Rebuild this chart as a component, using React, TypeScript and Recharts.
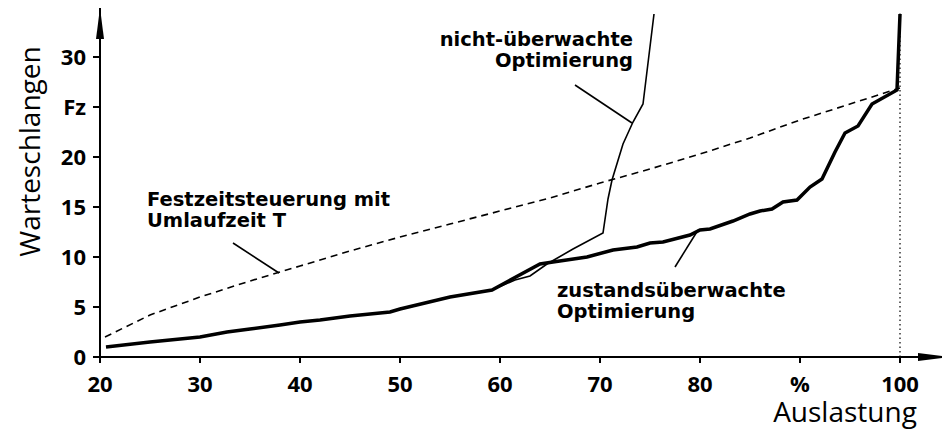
import {LineChart, Line, XAxis, YAxis, ReferenceLine} from 'recharts';

// Auslastung (%) / Warteschlangen
const festzeitX = [20.5, 25, 30, 35, 40, 45, 50, 55, 60, 65, 70, 75, 80, 85, 90, 95, 100];
const festzeitY = [2.0, 4.2, 6.0, 7.6, 9.1, 10.6, 12.0, 13.3, 14.6, 15.9, 17.4, 18.8, 20.3, 21.9, 23.7, 25.3, 26.9];

const zustandX = [20.6, 25, 30, 32.7, 35, 38, 40, 42, 45, 49, 50, 55, 59.2, 64, 65.3, 68.7, 71.3, 73.7, 75, 76.3, 79, 80, 81, 83.3, 85, 86, 87.2, 88.3, 89.7, 91, 92.2, 93.5, 94.5, 95.8, 97.2, 99.7, 100];
const zustandY = [1.0, 1.5, 2.0, 2.5, 2.8, 3.2, 3.5, 3.7, 4.1, 4.5, 4.8, 6.0, 6.7, 9.3, 9.5, 10.0, 10.7, 11.0, 11.4, 11.5, 12.2, 12.7, 12.8, 13.6, 14.3, 14.6, 14.8, 15.5, 15.7, 17.0, 17.8, 20.5, 22.4, 23.1, 25.3, 26.7, 34.3];

const nichtX = [20.6, 25, 30, 32.7, 35, 38, 40, 42, 45, 49, 50, 55, 59.2, 61.5, 63, 64.7, 67.3, 70.3, 70.8, 71.2, 72.3, 73.3, 74.3, 75.4];
const nichtY = [1.0, 1.5, 2.0, 2.5, 2.8, 3.2, 3.5, 3.7, 4.1, 4.5, 4.8, 6.0, 6.7, 7.7, 8.1, 9.3, 10.8, 12.4, 15.8, 17.7, 21.3, 23.5, 25.3, 34.3];

const xTicks = [20, 30, 40, 50, 60, 70, 80, 90, 100];
const yTicks = [0, 5, 10, 15, 20, 25, 30];

const toPoints = (xs: number[], ys: number[]) => xs.map((x, i) => ({x, y: ys[i]}));

const festzeit = toPoints(festzeitX, festzeitY);
const zustand = toPoints(zustandX, zustandY);
const nicht = toPoints(nichtX, nichtY);

const tickStyle = {fill: '#000', fontSize: 22, fontWeight: 700, fontFamily: 'Open Sans'};
const noteStyle = {fill: '#000', fontSize: 19.5, fontWeight: 700, fontFamily: 'DejaVu Sans'};
const titleStyle = {fill: '#000', fontSize: 28, fontFamily: 'Open Sans'};

export default function App() {
    return (
        <LineChart width={942} height={421} margin={{top: 0, right: 1, bottom: 36, left: 30}}>
            <defs>
                <marker id="arrow" markerUnits="userSpaceOnUse" markerWidth={32} markerHeight={8}
                        refX={31} refY={4} orient="auto-start-reverse">
                    <path d="M0,0 L31,4 L0,8 Z" fill="#000"/>
                </marker>
            </defs>
            <XAxis
                dataKey="x"
                type="number"
                domain={[20, 104.9]}
                allowDataOverflow
                ticks={xTicks}
                interval={0}
                tickFormatter={(v: number) => (v === 90 ? '%' : String(v))}
                height={36}
                tickSize={6}
                tickMargin={13}
                tick={tickStyle}
                tickLine={{stroke: '#000', strokeWidth: 2}}
                axisLine={{stroke: '#000', strokeWidth: 2, markerEnd: 'url(#arrow)'}}
            />
            <YAxis
                type="number"
                domain={[0, 34.9]}
                allowDataOverflow
                ticks={yTicks}
                interval={0}
                tickFormatter={(v: number) => (v === 25 ? 'Fz' : String(v))}
                width={62}
                tickSize={7}
                tickMargin={7}
                tick={tickStyle}
                tickLine={{stroke: '#000', strokeWidth: 2}}
                axisLine={{stroke: '#000', strokeWidth: 2, markerStart: 'url(#arrow)'}}
            />
            <ReferenceLine segment={[{x: 100, y: 0}, {x: 100, y: 34.4}]} stroke="#000" strokeWidth={1.2}
                           strokeDasharray="1.5 3"/>
            <ReferenceLine segment={[{x: 33.3, y: 11.4}, {x: 37.9, y: 8.4}]} stroke="#000" strokeWidth={1.6}/>
            <ReferenceLine segment={[{x: 67.5, y: 27.2}, {x: 73.2, y: 23.4}]} stroke="#000" strokeWidth={1.6}/>
            <ReferenceLine segment={[{x: 77.5, y: 9.0}, {x: 79.8, y: 12.7}]} stroke="#000" strokeWidth={1.6}/>
            <Line data={festzeit} dataKey="y" type="linear" stroke="#000" strokeWidth={1.6}
                  strokeDasharray="7 5" dot={false} isAnimationActive={false}/>
            <Line data={nicht} dataKey="y" type="linear" stroke="#000" strokeWidth={1.6}
                  dot={false} isAnimationActive={false}/>
            <Line data={zustand} dataKey="y" type="linear" stroke="#000" strokeWidth={3.5}
                  dot={false} isAnimationActive={false}/>
            <text {...noteStyle} x={625} y={38} textAnchor="end">nicht-überwachte</text>
            <text {...noteStyle} x={625} y={59} textAnchor="end">Optimierung</text>
            <text {...noteStyle} x={139} y={198}>Festzeitsteuerung mit</text>
            <text {...noteStyle} x={139} y={219}>Umlaufzeit T</text>
            <text {...noteStyle} x={549} y={289}>zustandsüberwachte</text>
            <text {...noteStyle} x={549} y={310}>Optimierung</text>
            <text {...titleStyle} x={837} y={414} textAnchor="middle">Auslastung</text>
            <text {...titleStyle} x={32} y={143.5} textAnchor="middle" transform="rotate(-90, 32, 143.5)">
                Warteschlangen
            </text>
        </LineChart>
    );
}
